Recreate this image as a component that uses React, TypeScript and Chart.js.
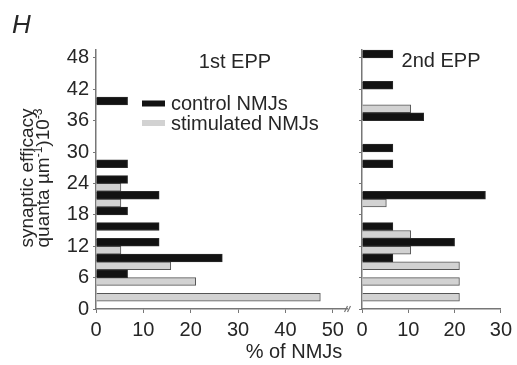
import React, { useEffect, useRef } from 'react';
import { Chart, registerables } from 'chart.js';

Chart.register(...registerables);

// ---- data ----
const binCenters = [3, 6, 9, 12, 15, 18, 21, 24, 27, 30, 33, 36, 39, 42, 45, 48];
const yTickValues = [0, 6, 12, 18, 24, 30, 36, 42, 48];
const xTicksFirst = [0, 10, 20, 30, 40, 50];
const xTicksSecond = [0, 10, 20, 30];
const seriesLabels = ['control NMJs', 'stimulated NMJs'];
const panelTitles = ['1st EPP', '2nd EPP'];

const controlFirst = [0, 6.67, 26.67, 13.33, 13.33, 6.67, 13.33, 6.67, 6.67, 0, 0, 0, 6.67, 0, 0, 0];
const stimulatedFirst = [47.37, 21.05, 15.79, 5.26, 0, 0, 5.26, 5.26, 0, 0, 0, 0, 0, 0, 0, 0];
const controlSecond = [0, 0, 6.67, 20, 6.67, 0, 26.67, 0, 6.67, 6.67, 0, 13.33, 0, 6.67, 0, 6.67];
const stimulatedSecond = [21.05, 21.05, 21.05, 10.53, 10.53, 0, 5.26, 0, 0, 0, 0, 0, 10.53, 0, 0, 0];

const FONT = '"Liberation Sans", Arial, Helvetica, sans-serif';
const TEXT = '#262626';
const AXIS = '#777';
const COLORS = [
  { bg: '#121212', border: '#2a2a2a' },
  { bg: '#d2d2d2', border: '#555555' },
];

Chart.defaults.font.family = FONT;

function toPoints(values: number[]) {
  return binCenters.map((b, i) => ({ y: b, x: values[i] === 0 ? null : values[i] }));
}

function makeDatasets(control: number[], stim: number[]) {
  return [control, stim].map((vals, i) => ({
    label: seriesLabels[i],
    data: toPoints(vals),
    backgroundColor: COLORS[i].bg,
    borderColor: COLORS[i].border,
    borderWidth: 1,
    barPercentage: 1,
    categoryPercentage: 1,
    clip: false as any,
  }));
}

function makeOptions(xMax: number, xTicks: number[], yWidth: number, rightPad: number, showYLabels: boolean): any {
  return {
    indexAxis: 'y',
    responsive: false,
    animation: false,
    layout: { padding: { left: 0, right: rightPad, top: 50, bottom: 0 } },
    plugins: { legend: { display: false }, tooltip: { enabled: false }, title: { display: false } },
    scales: {
      x: {
        type: 'linear',
        min: 0,
        max: xMax,
        afterBuildTicks: (s: any) => { s.ticks = xTicks.map((v) => ({ value: v })); },
        afterFit: (s: any) => { s.height = 56; },
        grid: { drawOnChartArea: false, drawTicks: true, tickLength: 4, color: AXIS, lineWidth: 1 },
        border: { display: true, color: AXIS, width: 1.5 },
        ticks: { color: TEXT, font: { size: 20, family: FONT }, padding: 5, maxRotation: 0, autoSkip: false },
      },
      y: {
        type: 'linear',
        min: 0,
        max: 49.5,
        offset: false,
        afterBuildTicks: (s: any) => { s.ticks = yTickValues.map((v) => ({ value: v })); },
        afterFit: (s: any) => { s.width = yWidth; },
        grid: { offset: false, drawOnChartArea: false, drawTicks: true, tickLength: 3, color: AXIS, lineWidth: 1 },
        border: { display: true, color: AXIS, width: 1.5 },
        ticks: { display: showYLabels, color: TEXT, font: { size: 20, family: FONT }, padding: 4, autoSkip: false },
      },
    },
  };
}

const decorations = {
  id: 'decorations',
  afterDraw(chart: any) {
    const ctx = chart.ctx as CanvasRenderingContext2D;
    ctx.save();
    ctx.fillStyle = TEXT;

    // panel letter
    ctx.font = `italic 26px ${FONT}`;
    ctx.textAlign = 'left';
    ctx.textBaseline = 'alphabetic';
    ctx.fillText('H', 12, 33);

    // panel titles
    ctx.font = `20px ${FONT}`;
    ctx.textAlign = 'center';
    ctx.textBaseline = 'middle';
    ctx.fillText(panelTitles[0], 235, 62);
    ctx.fillText(panelTitles[1], 441, 61);

    // legend
    chart.data.datasets.forEach((ds: any, i: number) => {
      const cy = 103.5 + 19.5 * i;
      ctx.fillStyle = ds.backgroundColor;
      ctx.fillRect(142, cy - 3, 23, 6);
      ctx.fillStyle = TEXT;
      ctx.font = `20px ${FONT}`;
      ctx.textAlign = 'left';
      ctx.textBaseline = 'middle';
      ctx.fillText(ds.label, 171, cy + 1);
    });

    // y title (rotated, two lines with superscripts)
    const cy = 178;
    ctx.textBaseline = 'alphabetic';
    ctx.save();
    ctx.translate(33, cy);
    ctx.rotate(-Math.PI / 2);
    ctx.font = `19px ${FONT}`;
    ctx.textAlign = 'center';
    ctx.fillText('synaptic efficacy', 0, 0);
    ctx.restore();

    const parts: { t: string; sup: boolean }[] = [
      { t: 'quanta \u00b5m', sup: false },
      { t: '-1', sup: true },
      { t: ')10', sup: false },
      { t: '-3', sup: true },
    ];
    const fontFor = (sup: boolean) => (sup ? `12px ${FONT}` : `19px ${FONT}`);
    let total = 0;
    parts.forEach((p) => { ctx.font = fontFor(p.sup); total += ctx.measureText(p.t).width; });
    ctx.save();
    ctx.translate(49, cy);
    ctx.rotate(-Math.PI / 2);
    ctx.textAlign = 'left';
    let px = -total / 2;
    parts.forEach((p) => {
      ctx.font = fontFor(p.sup);
      ctx.fillText(p.t, px, p.sup ? -7 : 0);
      px += ctx.measureText(p.t).width;
    });
    ctx.restore();

    // x title
    ctx.font = `20px ${FONT}`;
    ctx.textAlign = 'center';
    ctx.textBaseline = 'middle';
    ctx.fillText('% of NMJs', 294, 352);

    // axis break mark
    ctx.strokeStyle = AXIS;
    ctx.lineWidth = 1.2;
    ctx.beginPath();
    ctx.moveTo(344.5, 312); ctx.lineTo(347.5, 306);
    ctx.moveTo(347.5, 312); ctx.lineTo(350.5, 306);
    ctx.stroke();

    ctx.restore();
  },
};

export default function App() {
  const ref1 = useRef<HTMLCanvasElement>(null);
  const ref2 = useRef<HTMLCanvasElement>(null);

  useEffect(() => {
    const c1 = new Chart(ref1.current!, {
      type: 'bar',
      data: { datasets: makeDatasets(controlFirst, stimulatedFirst) as any },
      options: makeOptions(53, xTicksFirst, 96, 170, true),
      plugins: [decorations],
    });
    const c2 = new Chart(ref2.current!, {
      type: 'bar',
      data: { datasets: makeDatasets(controlSecond, stimulatedSecond) as any },
      options: makeOptions(30, xTicksSecond, 12, 14, false),
    });
    return () => { c1.destroy(); c2.destroy(); };
  }, []);

  return (
    <div style={{ position: 'absolute', left: 0, top: 0, width: 517, height: 365, background: '#fff' }}>
      <canvas ref={ref1} width={517} height={365} style={{ position: 'absolute', left: 0, top: 0 }} />
      <canvas ref={ref2} width={167} height={365} style={{ position: 'absolute', left: 350, top: 0 }} />
    </div>
  );
}
